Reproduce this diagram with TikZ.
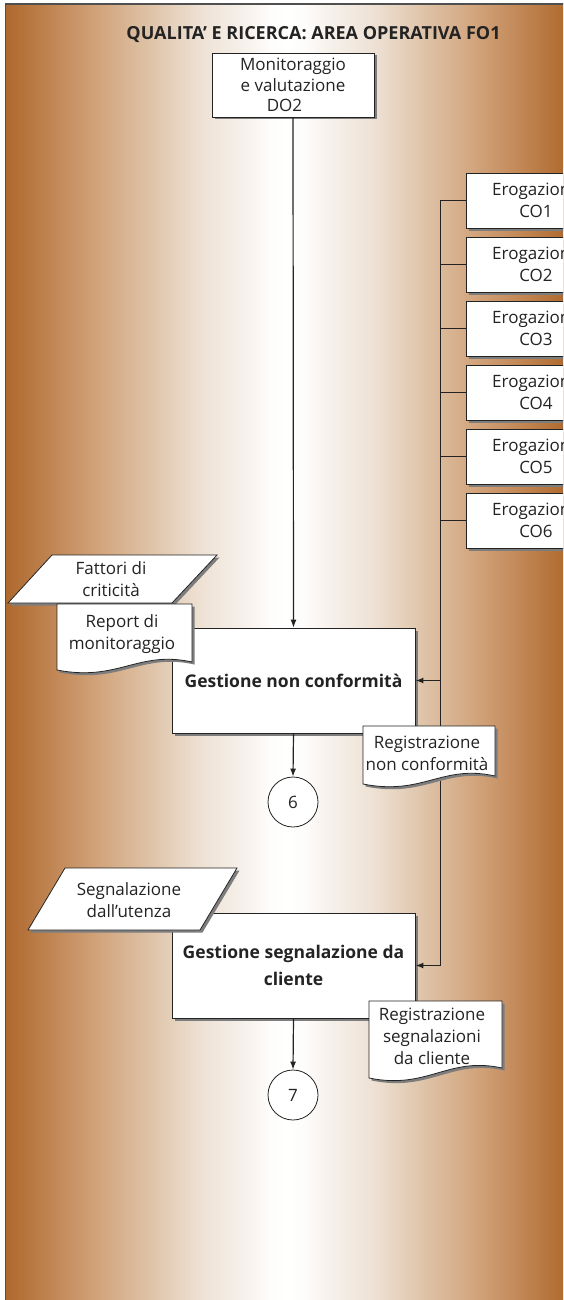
\documentclass[tikz,border=0pt]{standalone}
\usepackage{fontspec}
\setmainfont{Open Sans}
\usetikzlibrary{arrows.meta,shadows}
\definecolor{rust}{RGB}{174,104,44}
\definecolor{lane1}{RGB}{192,132,82}
\definecolor{lane2}{RGB}{210,165,125}
\definecolor{lane3}{RGB}{222,195,168}
\definecolor{lane4}{RGB}{238,225,212}
\definecolor{lane5}{RGB}{248,243,238}
\definecolor{lane6}{RGB}{253,252,250}
\definecolor{ink}{RGB}{35,35,35}
\definecolor{shadowcol}{RGB}{125,125,125}
% swimlane fill: rust at both edges, white in the middle
\pgfdeclarehorizontalshading{lane}{100bp}{%
  color(0bp)=(rust); color(25bp)=(rust); color(28.99bp)=(lane1);
  color(33.42bp)=(lane2); color(37.85bp)=(lane3); color(42.29bp)=(lane4);
  color(46.72bp)=(lane5); color(48.23bp)=(lane6); color(50bp)=(white);
  color(51.77bp)=(lane6); color(53.28bp)=(lane5); color(57.71bp)=(lane4);
  color(62.15bp)=(lane3); color(66.58bp)=(lane2); color(71.01bp)=(lane1);
  color(75bp)=(rust); color(100bp)=(rust)}
\tikzset{
  txt/.style={font=\fontsize{17}{22}\selectfont, text=ink, align=center, inner sep=0pt},
  boldtxt/.style={font=\bfseries\fontsize{17.5}{27}\selectfont, text=ink, align=center, inner sep=0pt},
  shadowed/.style={drop shadow={shadow xshift=2.5pt, shadow yshift=-2.5pt, fill=shadowcol, opacity=1}},
  box/.style={txt, draw=ink, line width=0.8pt, fill=white, shadowed},
  procbox/.style={boldtxt, draw=ink, line width=0.8pt, fill=white, shadowed,
                  minimum width=243pt, minimum height=105pt},
  cobox/.style={box, minimum width=140pt, minimum height=55pt},
  figbox/.style={draw=ink, line width=0.8pt, fill=white, shadowed},
  conn/.style={draw=ink, line width=1.2pt},
  bus/.style={draw=ink, line width=1.8pt},
  tip/.style={-{Latex[length=8pt,width=6pt]}},
  connector/.style={draw=ink, line width=0.8pt, fill=white, minimum size=50pt, circle, txt}
}
\begin{document}
\begin{tikzpicture}[x=1pt,y=-1pt]
\useasboundingbox (0,0) rectangle (563,1300);
\begin{scope}
\clip (0,0) rectangle (563,1300);
% swimlane background
\shade[shading=lane] (5,4) rectangle (569,1301);
\draw[draw=ink!80, line width=1.4pt] (5.5,1301) -- (5.5,4) -- (569,4);

\node[boldtxt, font=\bfseries\fontsize{18}{22}\selectfont] (title) at (313.5,35) {QUALITA' E RICERCA: AREA OPERATIVA FO1};

% process boxes
\node[box, minimum width=162pt, minimum height=64pt, font=\fontsize{17}{20.5}\selectfont] (mon) at (293,85) {Monitoraggio\\e valutazione\hspace*{10pt}\\DO2\hspace*{17pt}};
\foreach \i in {1,...,6}{
  \node[cobox] (co\i) at (536,{200.5+64*(\i-1)}) {Erogazione\\CO\i};
}
\node[procbox] (gnc) at (293.5,680.5) {Gestione non conformità};
\node[procbox] (gsc) at (293.5,965.5) {Gestione segnalazione da\\cliente};

\node[connector] (c6) at (293,802) {6};
\node[connector] (c7) at (293,1095) {7};

% connectors
\coordinate (busend) at (440.5,965.5);
\draw[bus] (co1.west) -| (busend);
\foreach \i in {2,...,6}{
  \draw[bus] (co\i.west) -- (co\i.west -| busend);
}
\draw[bus, tip] (gnc.east -| busend) -- (gnc.east);
\draw[bus, tip] (busend) -- (gsc.east);
\draw[conn, tip] (mon.south) -- (gnc.north);
\draw[conn, tip] (gnc.south) -- (c6.north);
\draw[conn, tip] (gsc.south) -- (c7.north);

% data inputs
\path[figbox] (52,555) -- (217,555) -- (172,603) -- (8,603) -- cycle;
\node[txt] (fattori) at (111,579) {Fattori di\\criticità};
\path[figbox] (65,868) -- (237,868) -- (200,930) -- (28,930) -- cycle;
\node[txt] (segn) at (129,900) {Segnalazione\\dall'utenza};

% documents
\path[figbox] (57,604) -- (192,604) -- (192,662)
  .. controls (138,650) and (118,682) .. (57,670) -- cycle;
\node[txt] (report) at (122,634) {Report di\\monitoraggio};
\path[figbox] (363,726) -- (495,726) -- (495,776)
  .. controls (442,764) and (423,796) .. (363,784) -- cycle;
\node[txt] (regnc) at (427,753) {Registrazione\\non conformità};
\path[figbox] (369,1001) -- (502,1001) -- (502,1068)
  .. controls (448,1056) and (428,1090) .. (369,1078) -- cycle;
\node[txt] (regsc) at (432,1036) {Registrazione\\segnalazioni\\da cliente};
\end{scope}
\end{tikzpicture}
\end{document}
